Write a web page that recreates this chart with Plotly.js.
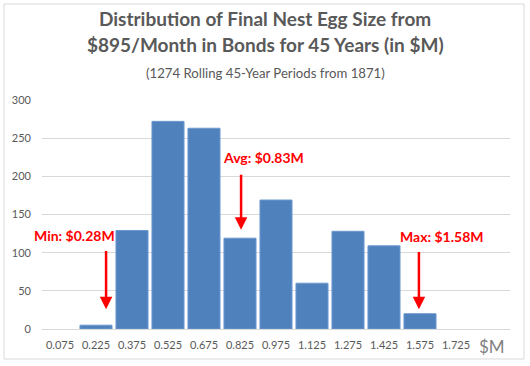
<!DOCTYPE html>
<html><head><meta charset="utf-8">
<script src="https://cdn.plot.ly/plotly-3.0.1.min.js"></script>
<style>html,body{margin:0;padding:0;background:#fff}#chart{width:530px;height:366px}</style>
</head><body><div id="chart"></div>
<script>
const categories = ["0.075","0.225","0.375","0.525","0.675","0.825","0.975","1.125","1.275","1.425","1.575","1.725"];
const counts = [0,5,129,272,263,119,169,60,128,109,20,0];
const yTicks = [0,50,100,150,200,250,300];
const titleLines = ["Distribution of Final Nest Egg Size from", "$895/Month in Bonds for 45 Years (in $M)"];
const subtitle = "(1274 Rolling 45-Year Periods from 1871)";
const unitLabel = "$M";

const F = "Lato, 'Open Sans', sans-serif";
const red = "#FF0000";
const L = 42, T = 100, W = 468, H = 229;
const py = p => (T + H - p) / H;
const px = p => (p - L) / W;
function arrow(x, yHead, yTail){
  return {x:x, y:yHead, ax:x, ay:yTail, axref:'x', ayref:'y', xref:'x', yref:'y',
    text:'', showarrow:true, arrowhead:2, arrowsize:1, arrowwidth:2.5, arrowcolor:red};
}
function label(x, y, t){
  return {x:x, y:y, xref:'x', yref:'y', text:'<b>'+t+'</b>', showarrow:false,
    font:{family:F, size:14, color:red}};
}
const idx = categories.map((c,i)=>i);
const data = [{
  type:'bar', x:idx, y:counts,
  marker:{color:'#4F81BD', line:{color:'#6d98cf', width:counts.map(v=>v>0?1:0)}},
  hoverinfo:'none'
}];
const layout = {
  width:530, height:366,
  margin:{l:L, r:530-L-W, t:T, b:366-T-H},
  paper_bgcolor:'#fff', plot_bgcolor:'#fff',
  bargap:0.11,
  showlegend:false,
  font:{family:F, color:'#595959'},
  xaxis:{type:'linear', tickmode:'array', tickvals:idx, ticktext:categories,
    range:[-0.5, categories.length+0.5], showgrid:false, zeroline:false,
    showline:true, linecolor:'#d9d9d9', linewidth:1, ticks:'', ticklabelstandoff:6,
    tickfont:{family:F, size:11, color:'#595959'}, fixedrange:true},
  yaxis:{range:[0,300], tickvals:yTicks, showgrid:true, gridcolor:'#d9d9d9', gridwidth:1,
    zeroline:false, showline:false, ticks:'', ticklabelstandoff:10,
    tickfont:{family:F, size:11, color:'#595959'}, fixedrange:true},
  annotations:[
    {xref:'paper', yref:'paper', x:px(265), y:py(19), yanchor:'middle', text:'<b>'+titleLines[0]+'</b>',
      showarrow:false, font:{family:F, size:19, color:'#595959'}},
    {xref:'paper', yref:'paper', x:px(265), y:py(44), yanchor:'middle', text:'<b>'+titleLines[1]+'</b>',
      showarrow:false, font:{family:F, size:19, color:'#595959'}},
    {xref:'paper', yref:'paper', x:px(265), y:py(73), yanchor:'middle', text:subtitle,
      showarrow:false, font:{family:F, size:13.2, color:'#595959'}},
    {xref:'x', yref:'paper', x:categories.length, y:py(346), yanchor:'middle', text:unitLabel, showarrow:false,
      font:{family:F, size:17, color:'#7f7f7f'}},
    label(0.39, 122, 'Min: $0.28M'),
    label(5.64, 225, 'Avg: $0.83M'),
    label(10.6, 121, 'Max: $1.58M'),
    arrow(1.28, 26, 104),
    arrow(5.03, 130, 204),
    arrow(9.97, 26, 103)
  ],
  shapes:[{type:'rect', xref:'paper', yref:'paper', x0:px(4), x1:px(524),
    y0:py(359), y1:py(4), line:{color:'#d9d9d9', width:1}, fillcolor:'rgba(0,0,0,0)'}]
};
Plotly.newPlot('chart', data, layout, {displayModeBar:false, staticPlot:true});
</script></body></html>
